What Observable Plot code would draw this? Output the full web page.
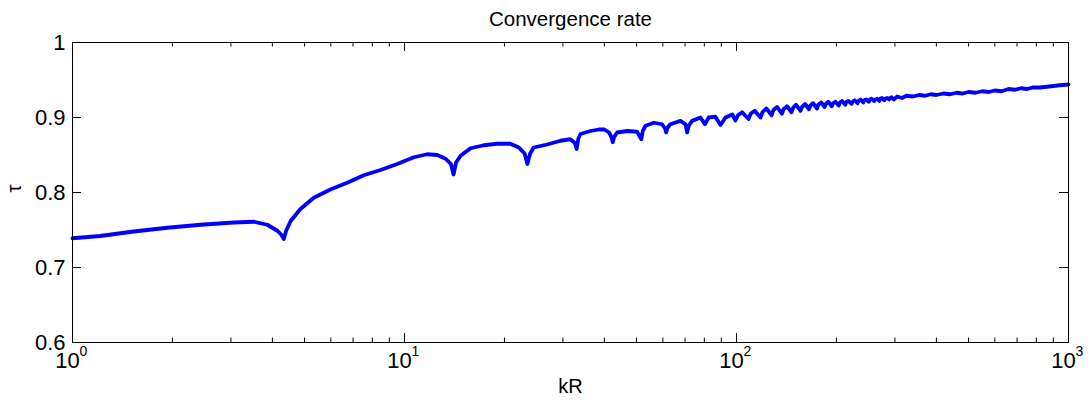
<!DOCTYPE html>
<html>
<head>
<meta charset="utf-8">
<script src="https://cdn.jsdelivr.net/npm/d3@7"></script>
<script src="https://cdn.jsdelivr.net/npm/@observablehq/plot@0.6"></script>
<style>
  html, body { margin: 0; padding: 0; background: #fff; }
  #chart svg { display: block; }
</style>
</head>
<body>
<div id="chart"></div>
<script>
// ---- Data ----
const kR = [
  1.00, 1.21, 1.53, 1.93, 2.43, 3.06, 3.52, 3.86, 4.14, 4.25, 4.33, 4.40, 4.54, 4.86, 5.33, 5.98, 6.72, 7.54, 8.47, 9.51,
  10.67, 11.7, 12.55, 13.3, 13.8, 14.05, 14.3, 14.75, 15.81, 17.33, 19.0, 20.85, 22.1, 23.0, 23.45, 23.9, 24.5, 26.9, 29.5, 31.6,
  32.6, 33.0, 33.4, 33.9, 36.3, 38.5, 40.0, 41.3, 42.0, 42.4, 42.8, 43.7, 46.9, 50.2, 51.7, 52.2, 53.2, 56.4, 59.7, 61.0,
  61.4, 61.9, 63.2, 67.8, 70.2, 71.0, 71.8, 73.5, 77.9, 80.3, 82.5, 86.4, 89.5, 92.7, 97.1, 99.3,
  101, 104, 108.7, 110.3, 113.5, 118.1, 119.7, 123, 127.6, 129.2, 132.5, 137.0, 138.6, 142, 146.5, 148.1, 151,
  155.9, 157.5, 161, 165.4, 167, 170, 174.8, 176.4, 180, 184.3, 185.9, 189, 193.7, 195.3, 198.5, 203.2, 204.8, 208,
  212.6, 214.2, 217.5, 222.1, 223.7, 227, 231.5, 233.1, 236.5, 241.0, 242.6, 246, 250.4, 252, 255, 259.9, 261.5, 265,
  269.3, 271, 274, 278.8, 280.4, 284, 288.2, 290, 293, 297.7,
  305, 315, 325, 340, 355, 370, 385, 400, 420, 440, 460, 480, 500, 525, 550, 575, 600, 630, 660, 690, 720, 750, 780,
  820, 860, 900, 940, 1000
];
const tau = [
  0.739, 0.742, 0.748, 0.753, 0.757, 0.760, 0.761, 0.757, 0.749, 0.744, 0.738, 0.749, 0.762, 0.778, 0.793, 0.804, 0.813, 0.823, 0.830, 0.838,
  0.847, 0.851, 0.850, 0.845, 0.838, 0.824, 0.840, 0.849, 0.859, 0.863, 0.865, 0.865, 0.860, 0.852, 0.838, 0.852, 0.860, 0.864, 0.869, 0.871,
  0.866, 0.858, 0.872, 0.878, 0.882, 0.884, 0.884, 0.880, 0.874, 0.867, 0.874, 0.880, 0.882, 0.881, 0.871, 0.882, 0.889, 0.893, 0.891, 0.885,
  0.880, 0.886, 0.891, 0.8955, 0.891, 0.880, 0.889, 0.8955, 0.900, 0.891, 0.900, 0.901, 0.890, 0.900, 0.904, 0.896,
  0.903, 0.907, 0.898, 0.905, 0.909, 0.900, 0.907, 0.912, 0.903, 0.910, 0.914, 0.905, 0.911, 0.915, 0.907, 0.913, 0.917,
  0.909, 0.914, 0.918, 0.911, 0.916, 0.919, 0.912, 0.917, 0.920, 0.914, 0.918, 0.921, 0.915, 0.919, 0.921, 0.916, 0.920, 0.922,
  0.917, 0.921, 0.922, 0.918, 0.921, 0.923, 0.919, 0.922, 0.924, 0.920, 0.923, 0.924, 0.921, 0.924, 0.925, 0.922, 0.924, 0.925,
  0.922, 0.925, 0.926, 0.923, 0.925, 0.926, 0.924, 0.926, 0.927, 0.924,
  0.928, 0.926, 0.929, 0.928, 0.930, 0.929, 0.931, 0.930, 0.932, 0.931, 0.933, 0.932, 0.934, 0.933, 0.935, 0.934, 0.936, 0.935, 0.938, 0.937, 0.939, 0.938, 0.940,
  0.940, 0.941, 0.942, 0.943, 0.944
];
const yTicks = [0.6, 0.7, 0.8, 0.9, 1];
const yTickLabels = ["0.6", "0.7", "0.8", "0.9", "1"];
const xMajor = [1, 10, 100, 1000];
const xExponents = ["0", "1", "2", "3"];
const xMinor = [2, 3, 4, 5, 6, 7, 8, 9, 20, 30, 40, 50, 60, 70, 80, 90, 200, 300, 400, 500, 600, 700, 800, 900];
const title = "Convergence rate";
const xLabel = "kR";
const yLabel = "τ";

// ---- Build ----
const data = kR.map((k, i) => ({k, t: tau[i]}));
const W = 1089, H = 401;
const mL = 72, mR = 21, mT = 42, mB = 59;
const pw = W - mL - mR, ph = H - mT - mB;
const font = "'Liberation Sans', Arial, Helvetica, sans-serif";
const majorLen = 9, minorLen = 4.5;

const chart = Plot.plot({
  width: W, height: H,
  marginLeft: mL, marginRight: mR, marginTop: mT, marginBottom: mB,
  style: {fontFamily: font, background: "#fff", color: "#000"},
  x: {type: "log", domain: [1, 1000], axis: null},
  y: {domain: [0.6, 1], axis: null},
  marks: [
    // x ticks bottom & top (inward)
    Plot.tickX(xMajor, {x: d => d, stroke: "#000", strokeWidth: 1, insetTop: ph - majorLen}),
    Plot.tickX(xMajor, {x: d => d, stroke: "#000", strokeWidth: 1, insetBottom: ph - majorLen}),
    Plot.tickX(xMinor, {x: d => d, stroke: "#000", strokeWidth: 1, insetTop: ph - minorLen}),
    Plot.tickX(xMinor, {x: d => d, stroke: "#000", strokeWidth: 1, insetBottom: ph - minorLen}),
    // y ticks left & right (inward)
    Plot.tickY(yTicks, {y: d => d, stroke: "#000", strokeWidth: 1, insetRight: pw - majorLen}),
    Plot.tickY(yTicks, {y: d => d, stroke: "#000", strokeWidth: 1, insetLeft: pw - majorLen}),
    // curve
    Plot.line(data, {x: "k", y: "t", stroke: "#0000ff", strokeWidth: 3.8, strokeLinejoin: "round", strokeLinecap: "round"}),
    Plot.frame({stroke: "#000", strokeWidth: 1}),
    // y tick labels
    Plot.text(yTicks, {y: d => d, text: (d, i) => yTickLabels[i], frameAnchor: "left", textAnchor: "end", dx: -7, fontSize: 22, fill: "#000"}),
    // x tick labels: base "10" and exponent
    Plot.text(xMajor, {x: d => d, text: () => "10", frameAnchor: "bottom", dy: 25, dx: -5, fontSize: 22, fill: "#000"}),
    Plot.text(xMajor, {x: d => d, text: (d, i) => xExponents[i], frameAnchor: "bottom", textAnchor: "start", dy: 13, dx: 7, fontSize: 14, fill: "#000"}),
    // axis labels & title
    Plot.text([xLabel], {text: d => d, frameAnchor: "bottom", dy: 50, fontSize: 20, fill: "#000"}),
    Plot.text([yLabel], {text: d => d, frameAnchor: "left", dx: -58, rotate: -90, fontSize: 20, fill: "#000"}),
    Plot.text([title], {text: d => d, frameAnchor: "top", dy: -31, fontSize: 20.5, fill: "#000"})
  ]
});
document.getElementById("chart").appendChild(chart);
</script>
</body>
</html>
